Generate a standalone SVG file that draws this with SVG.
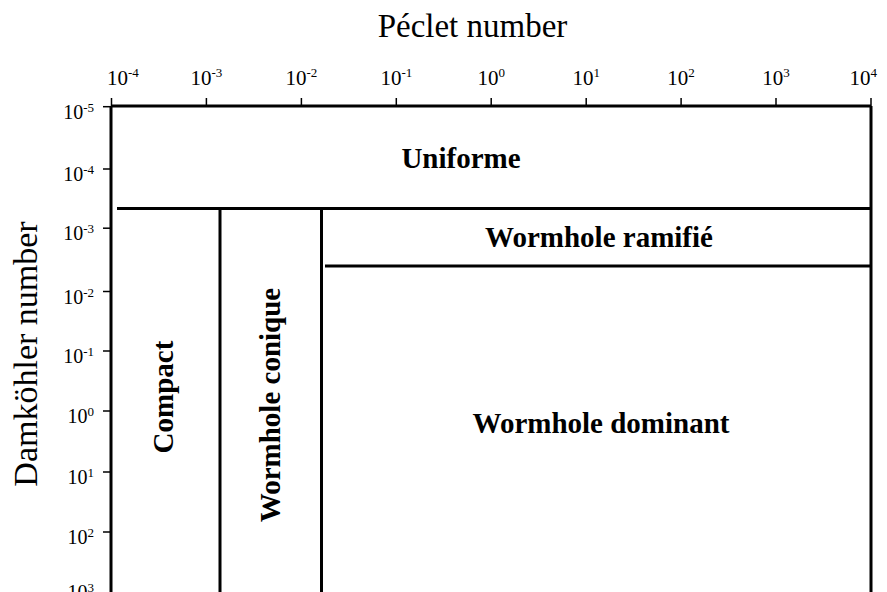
<svg xmlns="http://www.w3.org/2000/svg" width="887" height="592" viewBox="0 0 887 592">
<style>
.t{font-family:"Liberation Serif","Times New Roman",serif;fill:#000}
.tk{font-size:21px}
.lk{font-size:20px}
.sup{font-size:13px}
.b{font-family:"Liberation Serif","Times New Roman",serif;font-weight:bold;font-size:29px;fill:#000}
.ax{stroke:#000;stroke-width:3;fill:none}
.tick{stroke:#000;stroke-width:1.5;fill:none}
.bd{stroke:#000;stroke-width:3;fill:none}
</style>
<rect width="887" height="592" fill="#fff"/>
<g id="titles">
<text class="t" x="472.5" y="37" font-size="33" text-anchor="middle">Péclet number</text>
<text class="t" font-size="34" text-anchor="middle" transform="translate(37,354) rotate(-90)">Damköhler number</text>
</g>
<g id="axes">
<line class="ax" x1="111" y1="106" x2="871" y2="106"/>
<line class="ax" x1="111" y1="106" x2="111" y2="592"/>
<line class="ax" x1="871" y1="106" x2="871" y2="592"/>
<g id="top-ticks">
<line class="tick" x1="111.5" y1="98" x2="111.5" y2="106"/>
<line class="tick" x1="206.4" y1="98" x2="206.4" y2="106"/>
<line class="tick" x1="301.4" y1="98" x2="301.4" y2="106"/>
<line class="tick" x1="396.3" y1="98" x2="396.3" y2="106"/>
<line class="tick" x1="491.2" y1="98" x2="491.2" y2="106"/>
<line class="tick" x1="586.2" y1="98" x2="586.2" y2="106"/>
<line class="tick" x1="681.1" y1="98" x2="681.1" y2="106"/>
<line class="tick" x1="776" y1="98" x2="776" y2="106"/>
<line class="tick" x1="871" y1="98" x2="871" y2="106"/>
</g>
<g id="left-ticks">
<line class="tick" x1="103" y1="106.7" x2="111" y2="106.7"/>
<line class="tick" x1="103" y1="169" x2="111" y2="169"/>
<line class="tick" x1="103" y1="228.2" x2="111" y2="228.2"/>
<line class="tick" x1="103" y1="291.5" x2="111" y2="291.5"/>
<line class="tick" x1="103" y1="351" x2="111" y2="351"/>
<line class="tick" x1="103" y1="411" x2="111" y2="411"/>
<line class="tick" x1="103" y1="472" x2="111" y2="472"/>
<line class="tick" x1="103" y1="532" x2="111" y2="532"/>
</g>
<g id="top-labels" class="t tk">
<text x="107" y="85">10<tspan class="sup" dy="-8">-4</tspan></text>
<text x="206.4" y="85" text-anchor="middle">10<tspan class="sup" dy="-8">-3</tspan></text>
<text x="301.4" y="85" text-anchor="middle">10<tspan class="sup" dy="-8">-2</tspan></text>
<text x="396.3" y="85" text-anchor="middle">10<tspan class="sup" dy="-8">-1</tspan></text>
<text x="491.2" y="85" text-anchor="middle">10<tspan class="sup" dy="-8">0</tspan></text>
<text x="586.2" y="85" text-anchor="middle">10<tspan class="sup" dy="-8">1</tspan></text>
<text x="681.1" y="85" text-anchor="middle">10<tspan class="sup" dy="-8">2</tspan></text>
<text x="776" y="85" text-anchor="middle">10<tspan class="sup" dy="-8">3</tspan></text>
<text x="877" y="85" text-anchor="end">10<tspan class="sup" dy="-8">4</tspan></text>
</g>
<g id="left-labels" class="t lk" text-anchor="end">
<text x="94" y="119">10<tspan class="sup" dy="-7">-5</tspan></text>
<text x="94" y="181">10<tspan class="sup" dy="-7">-4</tspan></text>
<text x="94" y="240">10<tspan class="sup" dy="-7">-3</tspan></text>
<text x="94" y="303.5">10<tspan class="sup" dy="-7">-2</tspan></text>
<text x="94" y="363">10<tspan class="sup" dy="-7">-1</tspan></text>
<text x="94" y="423">10<tspan class="sup" dy="-7">0</tspan></text>
<text x="94" y="484">10<tspan class="sup" dy="-7">1</tspan></text>
<text x="94" y="544">10<tspan class="sup" dy="-7">2</tspan></text>
<text x="94" y="599">10<tspan class="sup" dy="-7">3</tspan></text>
</g>
</g>
<g id="connectors">
<line class="bd" x1="117" y1="208.5" x2="872" y2="208.5"/>
<line class="bd" x1="220" y1="208.5" x2="220" y2="592"/>
<line class="bd" x1="321.5" y1="208.5" x2="321.5" y2="592"/>
<line class="bd" x1="325" y1="266" x2="872" y2="266"/>
</g>
<g id="uniforme"><text class="b" x="461" y="168" text-anchor="middle">Uniforme</text></g>
<g id="wormhole-ramifie"><text class="b" x="599" y="247" text-anchor="middle">Wormhole ramifié</text></g>
<g id="wormhole-dominant"><text class="b" x="601" y="433" text-anchor="middle">Wormhole dominant</text></g>
<g id="compact"><text class="b" text-anchor="middle" transform="translate(173,397) rotate(-90)">Compact</text></g>
<g id="wormhole-conique"><text class="b" text-anchor="middle" transform="translate(280,405) rotate(-90)">Wormhole conique</text></g>
</svg>
